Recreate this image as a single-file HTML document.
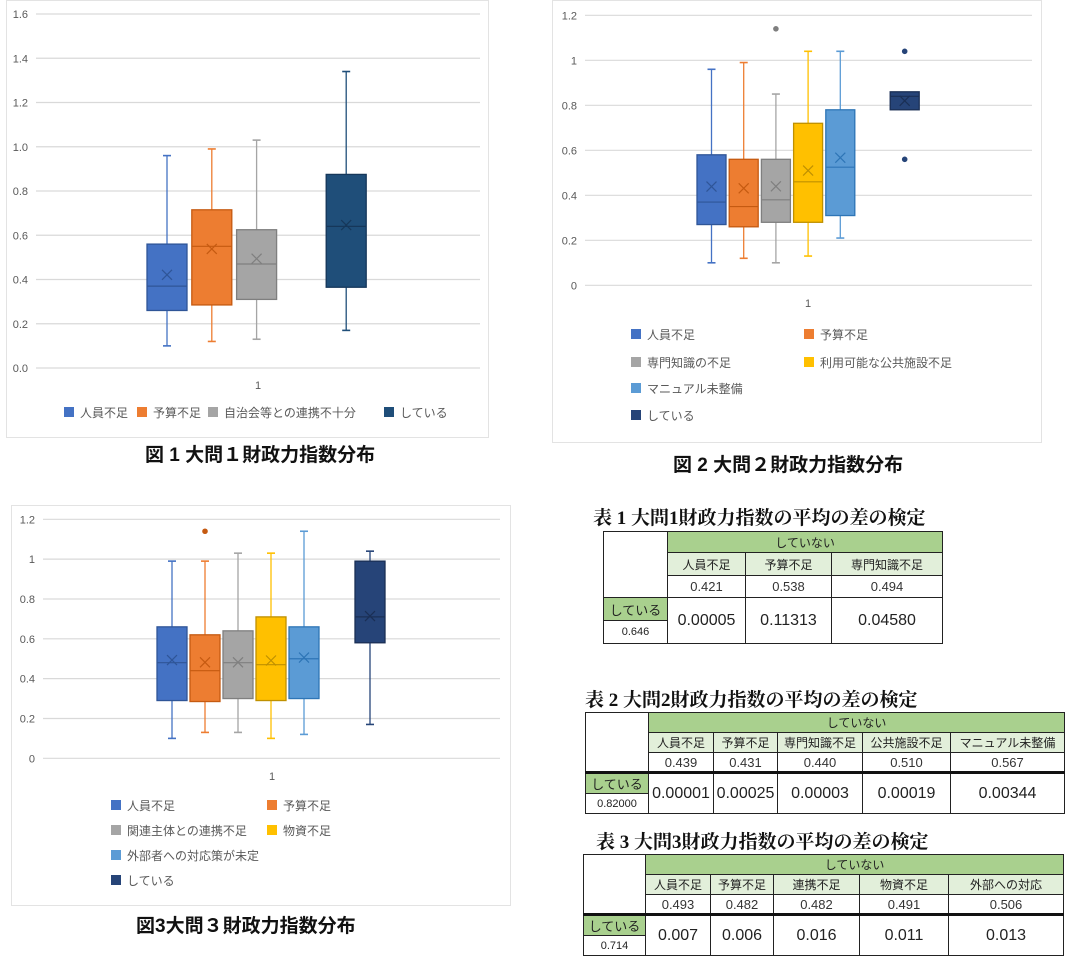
<!DOCTYPE html>
<html><head><meta charset="utf-8">
<style>
body{margin:0;background:#fff;width:1066px;height:957px;overflow:hidden;position:relative;font-family:"Liberation Sans","Noto Sans CJK JP",sans-serif}
svg{position:absolute;left:0;top:0}
.cap{position:absolute;font-family:"Liberation Sans","Noto Sans CJK JP",sans-serif;font-weight:bold;font-size:19px;color:#111;white-space:nowrap}
.ttl{position:absolute;font-family:"Liberation Serif","Noto Serif CJK SC","Noto Sans CJK JP",serif;font-weight:bold;font-size:19px;color:#111;white-space:nowrap}
table{position:absolute;border-collapse:collapse;table-layout:fixed;font-family:"Liberation Sans","Noto Sans CJK JP",sans-serif;color:#222}
td{border:1px solid #222;text-align:center;padding:0;font-size:12px;overflow:hidden;white-space:nowrap}
td.h{background:#a9d08e}
td.s{background:#e2efda}
td.m{font-size:13px;color:#333}
td.p{font-size:16px}
td.nb{border:none}
</style></head><body>
<svg id="svg" width="1066" height="957"></svg>

<div class="cap" style="left:145px;top:440px">図 1 大問１財政力指数分布</div>
<div class="cap" style="left:673px;top:450px">図 2 大問２財政力指数分布</div>
<div class="cap" style="left:136px;top:911px">図3大問３財政力指数分布</div>

<div class="ttl" style="left:593px;top:503px">表 1 大問1財政力指数の平均の差の検定</div>
<table style="left:603px;top:531px;width:339px">
<colgroup><col style="width:64px"><col style="width:78px"><col style="width:86px"><col style="width:111px"></colgroup>
<tr style="height:21px"><td rowspan="3" style="border-bottom:none"></td><td class="h" colspan="3">していない</td></tr>
<tr style="height:23px"><td class="s">人員不足</td><td class="s">予算不足</td><td class="s">専門知識不足</td></tr>
<tr style="height:22px"><td class="m">0.421</td><td class="m">0.538</td><td class="m">0.494</td></tr>
<tr style="height:23px"><td class="h" style="font-size:13px">している</td><td class="p" rowspan="2">0.00005</td><td class="p" rowspan="2">0.11313</td><td class="p" rowspan="2">0.04580</td></tr>
<tr style="height:23px"><td style="font-size:11px">0.646</td></tr>
</table>

<div class="ttl" style="left:585px;top:685px">表 2 大問2財政力指数の平均の差の検定</div>
<table style="left:585px;top:712px;width:479px">
<colgroup><col style="width:63px"><col style="width:65px"><col style="width:64px"><col style="width:85px"><col style="width:88px"><col style="width:114px"></colgroup>
<tr style="height:20px"><td rowspan="3"></td><td class="h" colspan="5">していない</td></tr>
<tr style="height:20px"><td class="s">人員不足</td><td class="s">予算不足</td><td class="s">専門知識不足</td><td class="s">公共施設不足</td><td class="s">マニュアル未整備</td></tr>
<tr style="height:20px;border-bottom:3px solid #111"><td class="m">0.439</td><td class="m">0.431</td><td class="m">0.440</td><td class="m">0.510</td><td class="m">0.567</td></tr>
<tr style="height:21px"><td class="h" style="font-size:13px">している</td><td class="p" rowspan="2">0.00001</td><td class="p" rowspan="2">0.00025</td><td class="p" rowspan="2">0.00003</td><td class="p" rowspan="2">0.00019</td><td class="p" rowspan="2">0.00344</td></tr>
<tr style="height:20px"><td style="font-size:11px">0.82000</td></tr>
</table>

<div class="ttl" style="left:596px;top:827px">表 3 大問3財政力指数の平均の差の検定</div>
<table style="left:583px;top:854px;width:480px">
<colgroup><col style="width:62px"><col style="width:65px"><col style="width:63px"><col style="width:86px"><col style="width:89px"><col style="width:115px"></colgroup>
<tr style="height:20px"><td rowspan="3"></td><td class="h" colspan="5">していない</td></tr>
<tr style="height:20px"><td class="s">人員不足</td><td class="s">予算不足</td><td class="s">連携不足</td><td class="s">物資不足</td><td class="s">外部への対応</td></tr>
<tr style="height:20px;border-bottom:3px solid #111"><td class="m">0.493</td><td class="m">0.482</td><td class="m">0.482</td><td class="m">0.491</td><td class="m">0.506</td></tr>
<tr style="height:20px"><td class="h" style="font-size:13px">している</td><td class="p" rowspan="2">0.007</td><td class="p" rowspan="2">0.006</td><td class="p" rowspan="2">0.016</td><td class="p" rowspan="2">0.011</td><td class="p" rowspan="2">0.013</td></tr>
<tr style="height:20px"><td style="font-size:11px">0.714</td></tr>
</table>

<script>
// ---- Chart 1 data ----
const c1Categories = ['人員不足','予算不足','自治会等との連携不十分','している'];
const c1Min = [0.10,0.12,0.13,0.17];
const c1Q1 = [0.26,0.285,0.31,0.365];
const c1Median = [0.37,0.55,0.47,0.64];
const c1Q3 = [0.56,0.715,0.625,0.875];
const c1Max = [0.96,0.99,1.03,1.34];
const c1Mean = [0.421,0.538,0.494,0.646];
const c1Outliers = [[],[],[],[]];
const c1Ticks = ['0.0','0.2','0.4','0.6','0.8','1.0','1.2','1.4','1.6'];
// ---- Chart 2 data ----
const c2Categories = ['人員不足','予算不足','専門知識の不足','利用可能な公共施設不足','マニュアル未整備','している'];
const c2Min = [0.10,0.12,0.10,0.13,0.21,0.78];
const c2Q1 = [0.27,0.26,0.28,0.28,0.31,0.78];
const c2Median = [0.37,0.35,0.38,0.46,0.525,0.84];
const c2Q3 = [0.58,0.56,0.56,0.72,0.78,0.86];
const c2Max = [0.96,0.99,0.85,1.04,1.04,0.86];
const c2Mean = [0.439,0.431,0.44,0.51,0.567,0.82];
const c2Outliers = [[],[],[1.14],[],[],[1.04,0.56]];
const c2Ticks = ['0','0.2','0.4','0.6','0.8','1','1.2'];
// ---- Chart 3 data ----
const c3Categories = ['人員不足','予算不足','関連主体との連携不足','物資不足','外部者への対応策が未定','している'];
const c3Min = [0.10,0.13,0.13,0.10,0.12,0.17];
const c3Q1 = [0.29,0.285,0.30,0.29,0.30,0.58];
const c3Median = [0.48,0.44,0.48,0.47,0.50,0.71];
const c3Q3 = [0.66,0.62,0.64,0.71,0.66,0.99];
const c3Max = [0.99,0.99,1.03,1.03,1.14,1.04];
const c3Mean = [0.493,0.482,0.482,0.491,0.506,0.714];
const c3Outliers = [[],[1.14],[],[],[],[]];
const c3Ticks = ['0','0.2','0.4','0.6','0.8','1','1.2'];

const NS='http://www.w3.org/2000/svg';
const svg=document.getElementById('svg');
function mk(tag,attrs,parent){const e=document.createElementNS(NS,tag);for(const k in attrs)e.setAttribute(k,attrs[k]);(parent||svg).appendChild(e);return e;}
const dark={'#4472c4':'#2f5597','#ed7d31':'#c55a11','#a5a5a5':'#7f7f7f','#ffc000':'#bf9000','#5b9bd5':'#2e75b6','#264478':'#1a2f55','#1f4e79':'#16375a'};

function drawChart(cfg){
  const g=mk('g',{});
  
  
  const fr=mk('rect',{x:cfg.frame[0]+0.5,y:cfg.frame[1]+0.5,width:cfg.frame[2],height:cfg.frame[3],fill:'#fff',stroke:'#e3e3e3'},g);
  
  
  const yMax=cfg.yMax;
  const y=v=>cfg.y0-(v/yMax)*(cfg.y0-cfg.yTop);
  const nT=cfg.ticks.length;
  for(let i=0;i<nT;i++){
    const v=yMax*i/(nT-1);
    const gl=mk('line',{x1:cfg.left,x2:cfg.right,y1:y(v),y2:y(v),stroke:'#d9d9d9','stroke-width':1.2},g);
    
    
    const t=mk('text',{x:cfg.left-8,y:y(v)+4,'text-anchor':'end','font-size':11,fill:'#595959'},g);
    t.textContent=cfg.ticks[i];
    
    
  }
  const xl=mk('text',{x:cfg.xLabel[0],y:cfg.xLabel[1],'text-anchor':'middle','font-size':11,fill:'#595959'},g);
  xl.textContent='1';
  
  
  const n=cfg.cats.length;
  for(let i=0;i<n;i++){
    const col=cfg.colors[i], dk=dark[col];
    const x0=cfg.boxStart+cfg.slots[i]*cfg.step, w=cfg.boxW, cx=x0+w/2;
    const bg=mk('g',{},g);
    
    
    if(cfg.max[i]>cfg.q3[i]){
      mk('line',{x1:cx,x2:cx,y1:y(cfg.max[i]),y2:y(cfg.q3[i]),stroke:col,'stroke-width':1.3},bg);
      mk('line',{x1:cx-4,x2:cx+4,y1:y(cfg.max[i]),y2:y(cfg.max[i]),stroke:col,'stroke-width':1.6},bg);
    }
    if(cfg.min[i]<cfg.q1[i]){
      mk('line',{x1:cx,x2:cx,y1:y(cfg.q1[i]),y2:y(cfg.min[i]),stroke:col,'stroke-width':1.3},bg);
      mk('line',{x1:cx-4,x2:cx+4,y1:y(cfg.min[i]),y2:y(cfg.min[i]),stroke:col,'stroke-width':1.6},bg);
    }
    mk('rect',{x:x0,y:y(cfg.q3[i]),width:w,height:y(cfg.q1[i])-y(cfg.q3[i]),fill:col,stroke:dk,'stroke-width':1.3},bg);
    mk('line',{x1:x0,x2:x0+w,y1:y(cfg.med[i]),y2:y(cfg.med[i]),stroke:dk,'stroke-width':1.2},bg);
    const my=y(cfg.mean[i]);
    mk('path',{d:`M${cx-5},${my-5}L${cx+5},${my+5}M${cx+5},${my-5}L${cx-5},${my+5}`,stroke:dk,'stroke-width':1.2,fill:'none'},bg);
    for(const o of cfg.out[i]){
      const c=mk('circle',{cx:cx,cy:y(o),r:2.8,fill:i===n-1?col:dk},bg);
      
      
    }
  }
  for(let i=0;i<n;i++){
    const p=cfg.legendPos[i];
    const lg=mk('g',{},g);
    
    
    mk('rect',{x:p[0],y:p[1]-6,width:10,height:10,fill:cfg.colors[i]},lg);
    const t=mk('text',{x:p[0]+16,y:p[1]+4,'font-size':12,fill:'#595959'},lg);
    t.textContent=cfg.cats[i];
  }
}

drawChart({name:'figure1-boxplot',frame:[6,0,482,437],left:36,right:480,yTop:14,y0:368,yMax:1.6,ticks:c1Ticks,xLabel:[258,389],
  cats:c1Categories,min:c1Min,q1:c1Q1,med:c1Median,q3:c1Q3,max:c1Max,mean:c1Mean,out:c1Outliers,
  colors:['#4472c4','#ed7d31','#a5a5a5','#1f4e79'],boxStart:147,step:44.8,boxW:40,slots:[0,1,2,4],
  legendPos:[[64,413],[137,413],[208,413],[384,413]]});
drawChart({name:'figure2-boxplot',frame:[552,0,489,442],left:585,right:1032,yTop:15.3,y0:285.3,yMax:1.2,ticks:c2Ticks,xLabel:[808,307],
  cats:c2Categories,min:c2Min,q1:c2Q1,med:c2Median,q3:c2Q3,max:c2Max,mean:c2Mean,out:c2Outliers,
  colors:['#4472c4','#ed7d31','#a5a5a5','#ffc000','#5b9bd5','#264478'],boxStart:697,step:32.2,boxW:29,slots:[0,1,2,3,4,6],
  legendPos:[[631,335],[804,335],[631,363],[804,363],[631,389],[631,416]]});
drawChart({name:'figure3-boxplot',frame:[11,505,499,400],left:43,right:500,yTop:519.3,y0:758.3,yMax:1.2,ticks:c3Ticks,xLabel:[272,780],
  cats:c3Categories,min:c3Min,q1:c3Q1,med:c3Median,q3:c3Q3,max:c3Max,mean:c3Mean,out:c3Outliers,
  colors:['#4472c4','#ed7d31','#a5a5a5','#ffc000','#5b9bd5','#264478'],boxStart:157,step:33,boxW:30,slots:[0,1,2,3,4,6],
  legendPos:[[111,806],[267,806],[111,831],[267,831],[111,856],[111,881]]});
</script>
</body></html>
